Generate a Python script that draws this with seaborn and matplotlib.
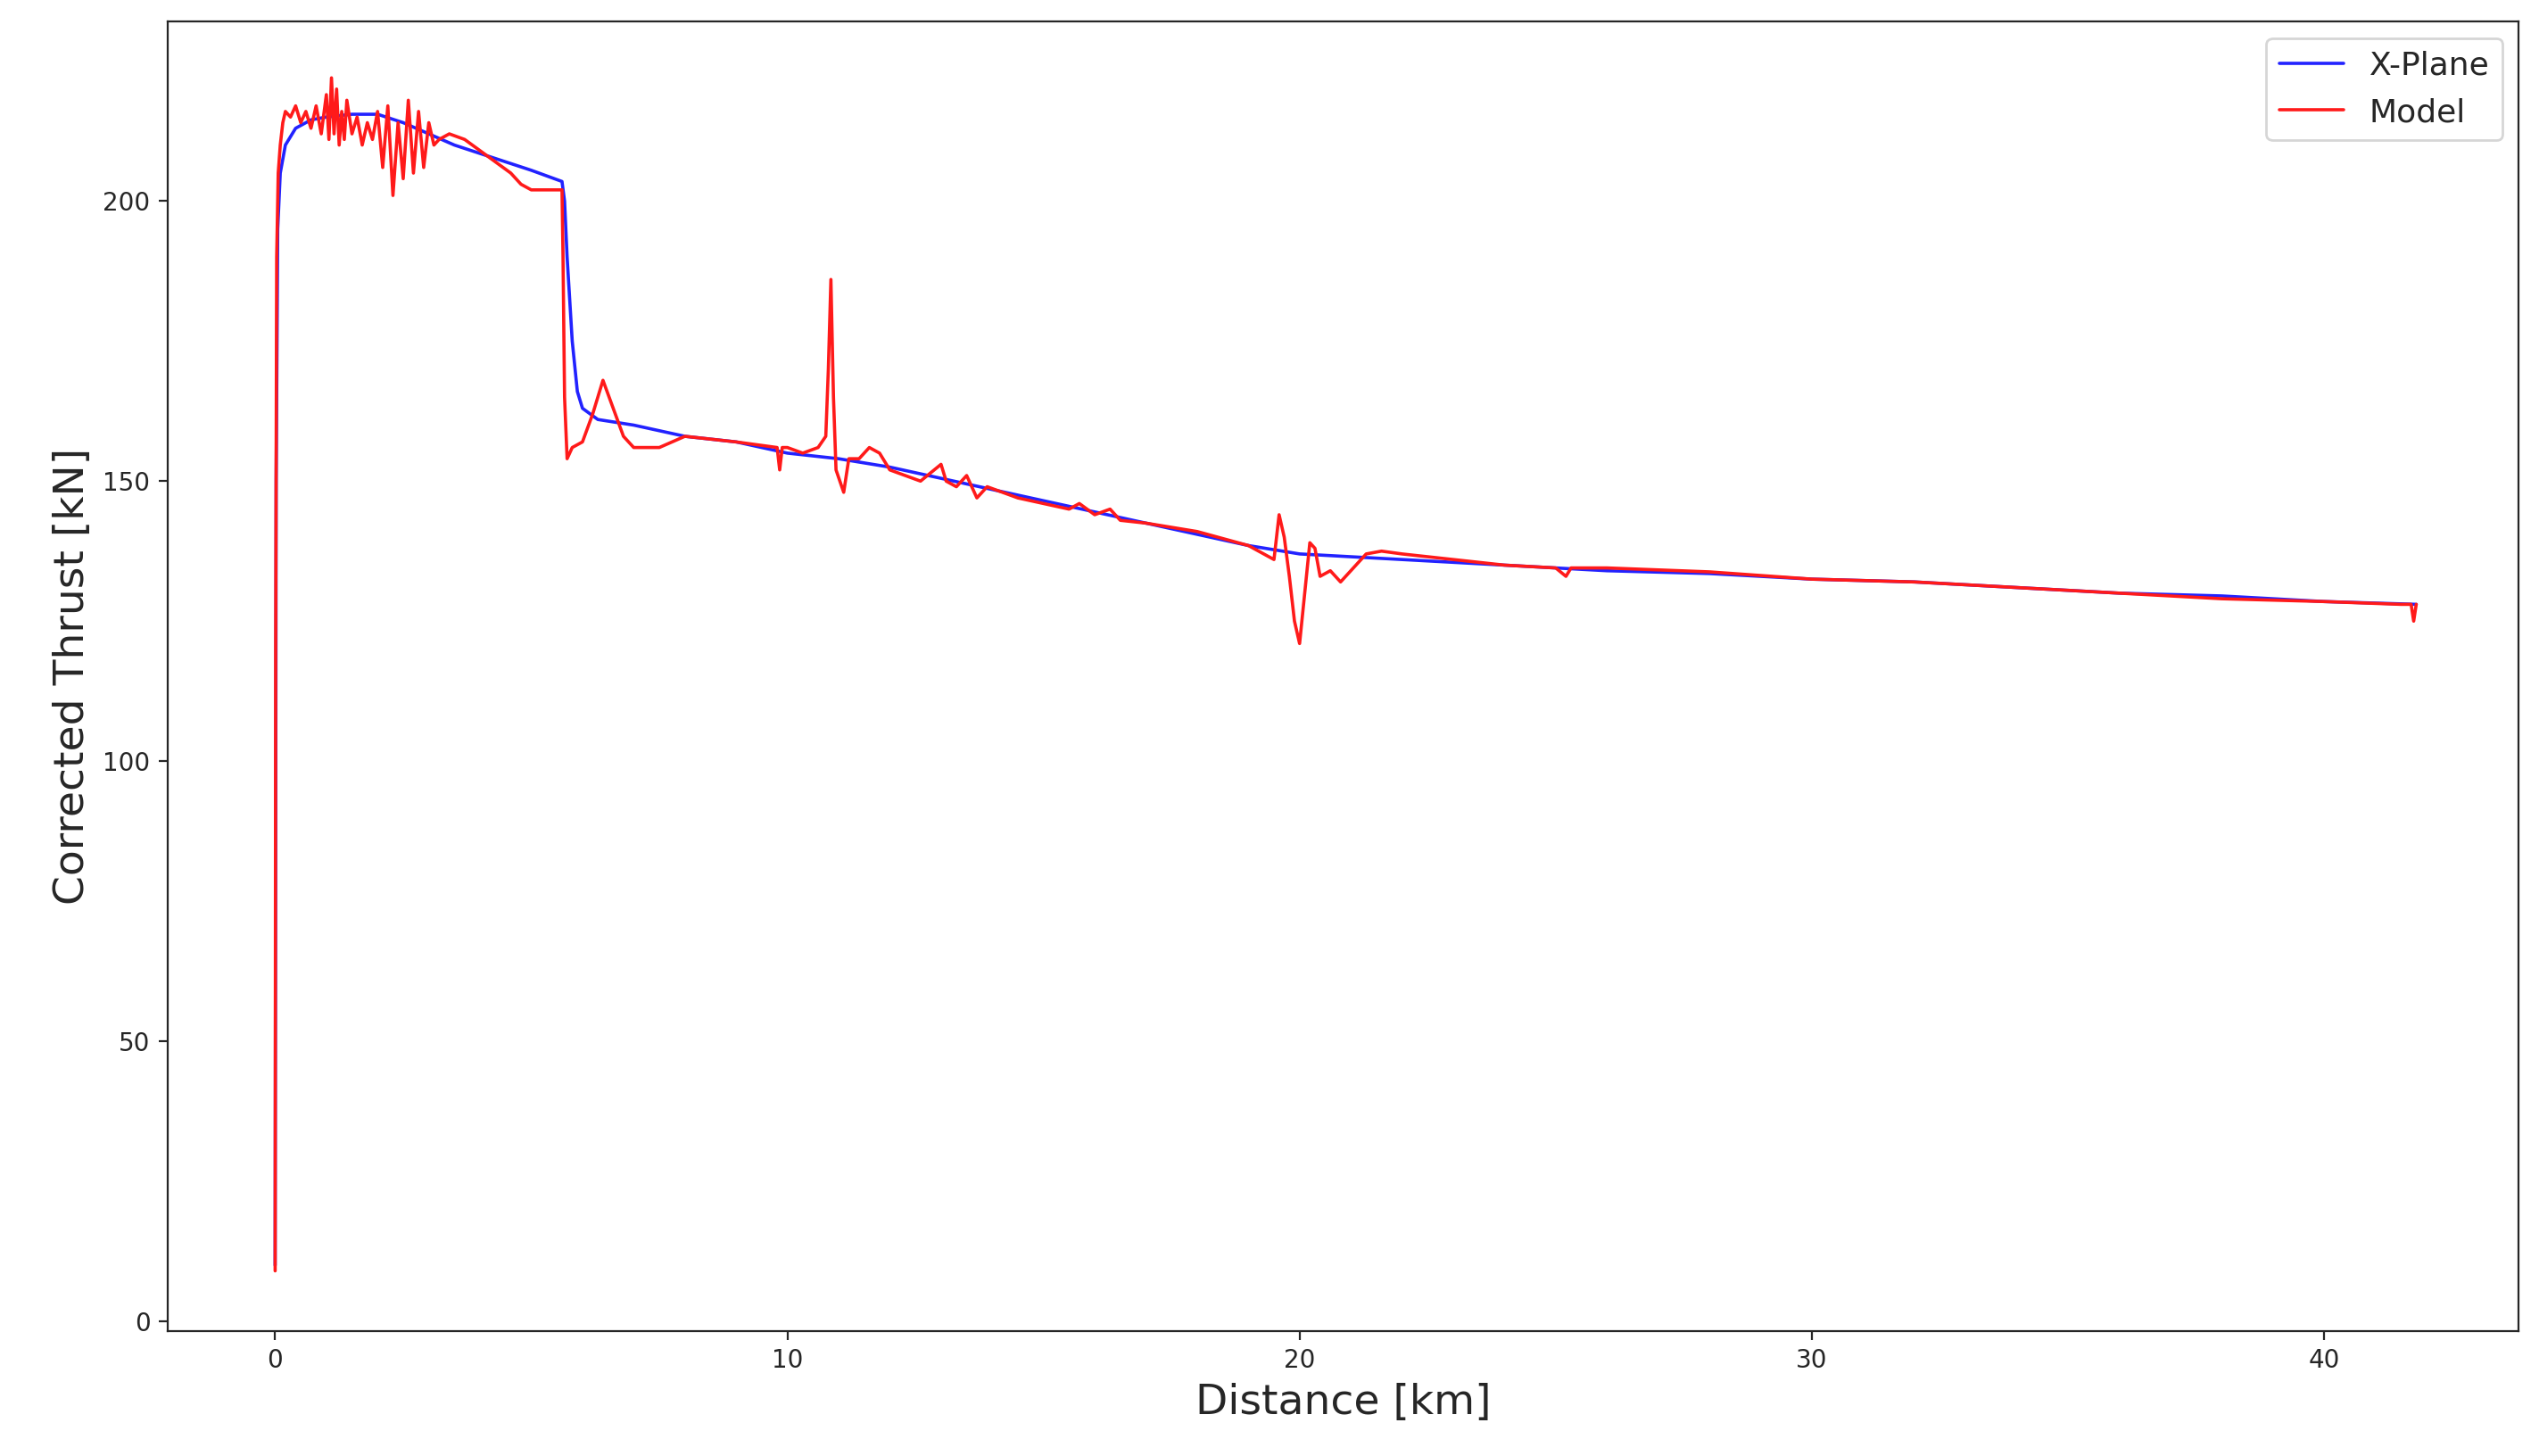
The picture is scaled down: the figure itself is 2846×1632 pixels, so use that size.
import matplotlib
matplotlib.use('Agg')
import matplotlib.pyplot as plt
import seaborn as sns
import pandas as pd

# X-Plane reference thrust
xp_dist = [0.0, 0.02, 0.05, 0.1, 0.2, 0.4, 0.7, 1.0, 1.5, 2.0, 2.5, 3.0, 3.5, 4.0, 4.5, 5.0, 5.6,
           5.65, 5.7, 5.8, 5.9, 6.0, 6.3, 7.0, 8.0, 9.0, 10.0, 11.0, 12.0, 13.0, 14.0, 15.0, 16.0,
           17.0, 18.0, 19.0, 20.0, 21.0, 22.0, 24.0, 26.0, 28.0, 30.0, 32.0, 34.0, 36.0, 38.0,
           40.0, 41.8]
xp_thrust = [10, 150, 195, 205, 210, 213, 214.5, 215, 215.5, 215.5, 214, 212, 210, 208.5, 207, 205.5, 203.5,
             200, 190, 175, 166, 163, 161, 160, 158, 157, 155, 154, 152.5, 150.5, 148.5, 146.5, 144.5,
             142.5, 140.5, 138.5, 137, 136.5, 136, 135, 134, 133.5, 132.5, 132, 131, 130, 129.5,
             128.5, 128]

# Model thrust
md_dist = [0.0, 0.01, 0.03, 0.06, 0.1, 0.15, 0.2, 0.3, 0.4, 0.5, 0.6, 0.7, 0.8, 0.9, 1.0, 1.05, 1.1,
           1.15, 1.2, 1.25, 1.3, 1.35, 1.4, 1.5, 1.6, 1.7, 1.8, 1.9, 2.0, 2.1, 2.2, 2.3, 2.4, 2.5,
           2.6, 2.7, 2.8, 2.9, 3.0, 3.1, 3.2, 3.4, 3.7, 4.0, 4.3, 4.6, 4.8, 5.0, 5.3, 5.6, 5.62,
           5.65, 5.7, 5.8, 6.0, 6.2, 6.4, 6.6, 6.8, 7.0, 7.5, 8.0, 9.0, 9.8, 9.85, 9.9, 10.0, 10.3,
           10.6, 10.75, 10.8, 10.85, 10.9, 10.95, 11.1, 11.2, 11.4, 11.6, 11.8, 12.0, 12.3, 12.6,
           13.0, 13.1, 13.3, 13.5, 13.7, 13.9, 14.2, 14.5, 15.0, 15.5, 15.7, 16.0, 16.3, 16.5,
           17.0, 18.0, 19.0, 19.5, 19.6, 19.7, 19.8, 19.9, 20.0, 20.1, 20.2, 20.3, 20.4, 20.6,
           20.8, 21.0, 21.3, 21.6, 22.0, 23.0, 24.0, 25.0, 25.2, 25.3, 26.0, 28.0, 30.0, 32.0,
           34.0, 36.0, 38.0, 40.0, 41.5, 41.7, 41.75, 41.8]
md_thrust = [9, 120, 190, 205, 210, 214, 216, 215, 217, 214, 216, 213, 217, 212, 219, 211, 222,
             212, 220, 210, 216, 211, 218, 212, 215, 210, 214, 211, 216, 206, 217, 201, 214, 204,
             218, 205, 216, 206, 214, 210, 211, 212, 211, 209, 207, 205, 203, 202, 202, 202, 190,
             165, 154, 156, 157, 162, 168, 163, 158, 156, 156, 158, 157, 156, 152, 156, 156, 155,
             156, 158, 170, 186, 165, 152, 148, 154, 154, 156, 155, 152, 151, 150, 153, 150, 149,
             151, 147, 149, 148, 147, 146, 145, 146, 144, 145, 143, 142.5, 141, 138.5, 136, 144,
             140, 133, 125, 121, 130, 139, 138, 133, 134, 132, 134, 137, 137.5, 137, 136, 135, 134.5,
             133, 134.5, 134.5, 133.8, 132.5, 132, 131, 130, 129, 128.5, 128, 128, 125, 128]

df = pd.concat([
    pd.DataFrame({'dist': xp_dist, 'thrust': xp_thrust, 'src': 'X-Plane'}),
    pd.DataFrame({'dist': md_dist, 'thrust': md_thrust, 'src': 'Model'}),
])

sns.set_style('ticks')
fig, ax = plt.subplots(figsize=(14.23, 8.16), dpi=200)
sns.lineplot(data=df, x='dist', y='thrust', hue='src', sort=False, estimator=None,
             palette={'X-Plane': '#2222ff', 'Model': '#ff1a1a'}, linewidth=1.3, ax=ax)

ax.set_xlim(-2.1, 43.8)
ax.set_ylim(-1.7, 232)
ax.set_xticks([0, 10, 20, 30, 40])
ax.set_yticks([0, 50, 100, 150, 200])
ax.tick_params(labelsize=10)
ax.set_xlabel('Distance [km]', fontsize=17)
ax.set_ylabel('Corrected Thrust [kN]', fontsize=17)
leg = ax.legend(loc='upper right', fontsize=13, title=None)

fig.subplots_adjust(left=0.066, right=0.992, top=0.985, bottom=0.086)
fig.savefig('out.png', dpi=200)
